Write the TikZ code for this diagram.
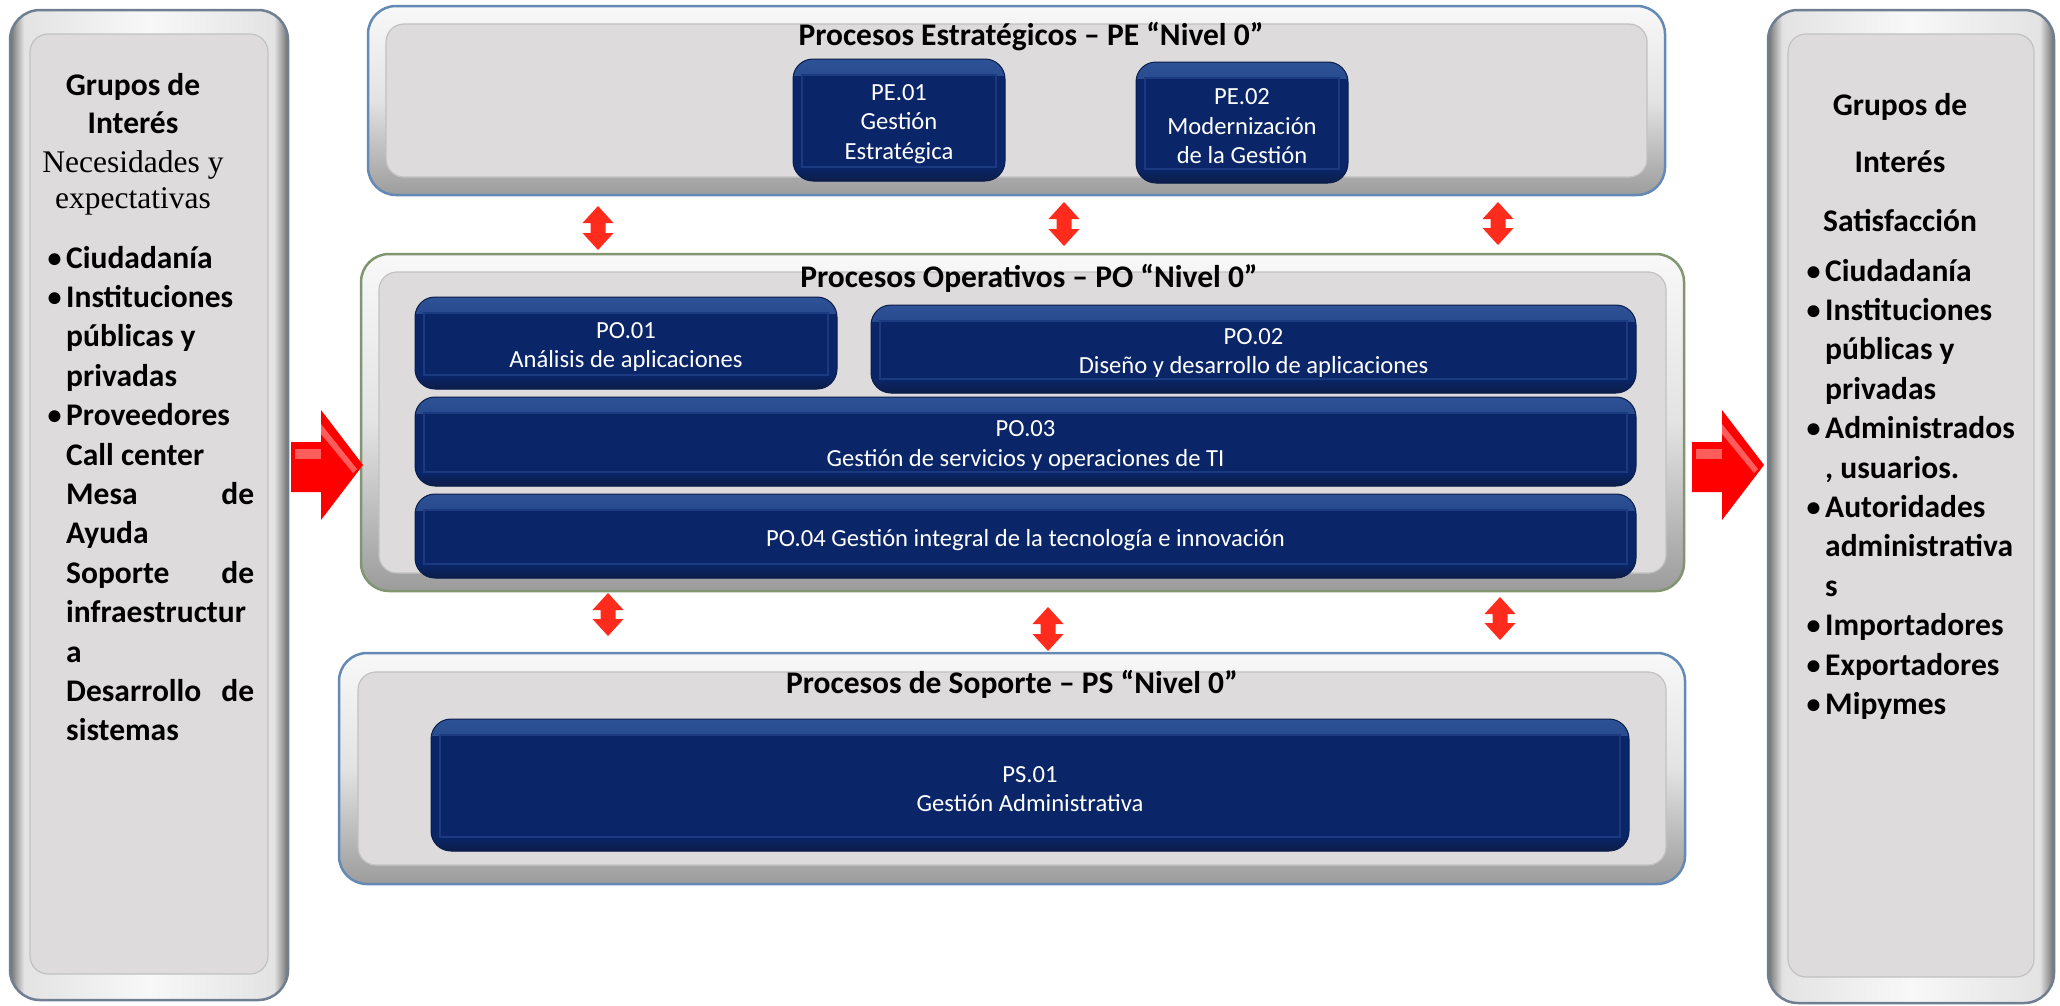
\documentclass[tikz,border=0pt]{standalone}
\usepackage{fontspec}
\setmainfont{Carlito}
\newfontfamily\timesfont{Liberation Serif}
\usetikzlibrary{fit}
\definecolor{navy}{HTML}{0A2669}
\definecolor{navytop}{HTML}{2E5296}
\definecolor{navybot}{HTML}{0C1D48}
\definecolor{navyline}{HTML}{1B3A80}
\definecolor{navyedge}{HTML}{0B1D4A}
\definecolor{panelin}{HTML}{DDDBDC}
\definecolor{panelinline}{HTML}{C2C2C2}
\definecolor{framehi}{HTML}{F8F8F8}
\definecolor{framemid}{HTML}{E3E3E3}
\definecolor{framelo}{HTML}{9C9C9C}
\definecolor{sidelo}{HTML}{6E6E6E}
\definecolor{frameblue}{HTML}{6489B4}
\definecolor{framegreen}{HTML}{819670}
\definecolor{framegray}{HTML}{6F7E90}
\definecolor{arrred}{HTML}{FF2B1C}
\definecolor{blockred}{HTML}{FF0000}
\definecolor{blockhl}{HTML}{FF5C5C}
\pgfdeclarehorizontalshading{sideshade}{100bp}{color(0bp)=(sidelo); color(25bp)=(sidelo); color(27.5bp)=(framemid); color(50bp)=(framehi); color(72.5bp)=(framemid); color(75bp)=(sidelo); color(100bp)=(sidelo)}
\newcommand\bul{\makebox[18pt][l]{\hspace*{-0.5pt}\raisebox{1pt}{\fontsize{28}{28}\selectfont •}}}
\newcommand\ind{\hspace*{18pt}}
\newcommand\rbul{\makebox[17pt][l]{\hspace*{-1.5pt}\raisebox{1pt}{\fontsize{28}{28}\selectfont •}}}
\newcommand\rind{\hspace*{17pt}}
\newcommand\dblarr[3]{\fill[arrred] (#1,#2) -- (#1+15.5,#2+17) -- (#1+7.5,#2+17) -- (#1+7.5,#3-17) -- (#1+15.5,#3-17) -- (#1,#3) -- (#1-15.5,#3-17) -- (#1-7.5,#3-17) -- (#1-7.5,#2+17) -- (#1-15.5,#2+17) -- cycle;}
\newcommand\blockarr[2]{%
  \fill[blockred] (#1,#2-23) -- (#1+30,#2-23) -- (#1+30,#2-55) -- (#1+72,#2) -- (#1+30,#2+55) -- (#1+30,#2+27) -- (#1,#2+27) -- cycle;
  \fill[blockhl] (#1+4,#2-16) -- (#1+30,#2-16) -- (#1+30,#2-6) -- (#1+4,#2-6) -- cycle;
  \fill[blockhl] (#1+30,#2-41) -- (#1+66,#2+4) -- (#1+62,#2+8) -- (#1+30,#2-31) -- cycle;}
\tikzset{
  panel/.style={draw=#1, line width=2.5pt, rounded corners=28pt, inner sep=0pt,
    top color=framehi, bottom color=framelo, middle color=framemid},
  sidepanel/.style={draw=framegray, line width=2.5pt, rounded corners=30pt, inner sep=0pt,
    shading=sideshade},
  pinner/.style={fill=panelin, draw=panelinline, line width=1.2pt, rounded corners=18pt, inner sep=0pt},
  dbox/.style={rounded corners=20pt, fill=navy, draw=navyedge, line width=1pt, inner sep=0pt,
    path picture={
      \fill[sharp corners, top color=navytop, bottom color=navy]
        (path picture bounding box.north west) rectangle ([yshift=-16pt]path picture bounding box.north east);
      \fill[sharp corners, top color=navy, bottom color=navybot]
        ([yshift=14pt]path picture bounding box.south west) rectangle (path picture bounding box.south east);
      \draw[sharp corners, navyline, line width=1.2pt]
        ([xshift=9pt,yshift=-16pt]path picture bounding box.north west) rectangle ([xshift=-9pt,yshift=14pt]path picture bounding box.south east);
    }},
  btxt/.style={text=white, align=center, inner sep=0pt, yshift=-4pt, font=\fontsize{24.6}{29.5}\selectfont},
  ttl/.style={font=\bfseries\fontsize{31.5}{38}\selectfont, inner sep=0pt, anchor=base},
  hdr/.style={font=\bfseries\fontsize{31.5}{39}\selectfont, inner sep=0pt, anchor=base},
  serifhdr/.style={font=\timesfont\fontsize{31.5}{39}\selectfont, inner sep=0pt, anchor=base},
  lst/.style={font=\bfseries\fontsize{31.5}{39.4}\selectfont, inner sep=0pt, anchor=base west}
}
\begin{document}
\begin{tikzpicture}[x=1pt, y=-1pt]
\fill[white] (0,0) rectangle (2060,1005);
\useasboundingbox (0,0) rectangle (2060,1005);

% side panels
\node[sidepanel, fit={(10,10) (288,1000)}] (lp) {};
\node[pinner, fit={(30,34) (268,974)}] (lpi) {};
\node[sidepanel, fit={(1768,10) (2054,1003)}] (rp) {};
\node[pinner, fit={(1788,34) (2034,977)}] (rpi) {};

% main panels
\node[panel=frameblue, fit={(368,6) (1665,195)}] (pe) {};
\node[pinner, fit={(386,24) (1647,177)}] (pei) {};
\node[panel=framegreen, fit={(361,254) (1684,591)}] (po) {};
\node[pinner, fit={(379,272) (1666,573)}] (poi) {};
\node[panel=frameblue, fit={(339,653) (1685,884)}] (ps) {};
\node[pinner, fit={(358,672) (1666,865)}] (psi) {};

% titles
\node[ttl] (pet) at (1031,45) {Procesos Estratégicos – PE “Nivel 0”};
\node[ttl] (pot) at (1029,287) {Procesos Operativos – PO “Nivel 0”};
\node[ttl] (pst) at (1012,693) {Procesos de Soporte – PS “Nivel 0”};

% process boxes
\node[dbox, fit={(793,59) (1005,181)}] (pe1) {};
\node[btxt] (pe1t) at (pe1.center) {PE.01\\Gestión\\Estratégica};
\node[dbox, fit={(1136,62) (1348,183)}] (pe2) {};
\node[btxt] (pe2t) at (pe2.center) {PE.02\\Modernización\\de la Gestión};
\node[dbox, fit={(415,297) (837,389)}] (po1) {};
\node[btxt] (po1t) at (po1.center) {PO.01\\Análisis de aplicaciones};
\node[dbox, fit={(871,305) (1636,393)}] (po2) {};
\node[btxt] (po2t) at (po2.center) {PO.02\\Diseño y desarrollo de aplicaciones};
\node[dbox, fit={(415,397) (1636,486)}] (po3) {};
\node[btxt] (po3t) at (po3.center) {PO.03\\Gestión de servicios y operaciones de TI};
\node[dbox, fit={(415,494) (1636,578)}] (po4) {};
\node[btxt] (po4t) at (po4.center) {PO.04 Gestión integral de la tecnología e innovación};
\node[dbox, fit={(431,719) (1629,851)}] (ps1) {};
\node[btxt] (ps1t) at (ps1.center) {PS.01\\Gestión Administrativa};

% double arrows between levels
\dblarr{598}{206}{250}
\dblarr{1064}{202}{246}
\dblarr{1498}{202}{245}
\dblarr{608}{593}{636}
\dblarr{1048}{607}{651}
\dblarr{1500}{597}{640}

% block arrows
\blockarr{291}{465}
\blockarr{1692}{465}

% left panel text
\node[hdr] (lh1) at (133,95) {Grupos de};
\node[hdr] (lh2) at (133,133) {Interés};
\node[serifhdr] (lh3) at (133,172) {Necesidades y};
\node[serifhdr] (lh4) at (133,208) {expectativas};
\node[lst] (ll) at (48,268) {\parbox[t]{206pt}{%
\bul Ciudadanía\\
\bul Instituciones\\
\ind públicas y\\
\ind privadas\\
\bul Proveedores\\
\ind Call center\\
\ind Mesa\hfill de\\
\ind Ayuda\\
\ind Soporte\hfill de\\
\ind infraestructur\\
\ind a\\
\ind Desarrollo\hfill de\\
\ind sistemas}};

% right panel text
\node[hdr] (rh1) at (1900,115) {Grupos de};
\node[hdr] (rh2) at (1900,172) {Interés};
\node[hdr] (rh3) at (1900,231) {Satisfacción};
\node[lst] (rl) at (1808,281) {\parbox[t]{230pt}{%
\rbul Ciudadanía\\
\rbul Instituciones\\
\rind públicas y\\
\rind privadas\\
\rbul Administrados\\
\rind , usuarios.\\
\rbul Autoridades\\
\rind administrativa\\
\rind s\\
\rbul Importadores\\
\rbul Exportadores\\
\rbul Mipymes}};
\end{tikzpicture}
\end{document}
